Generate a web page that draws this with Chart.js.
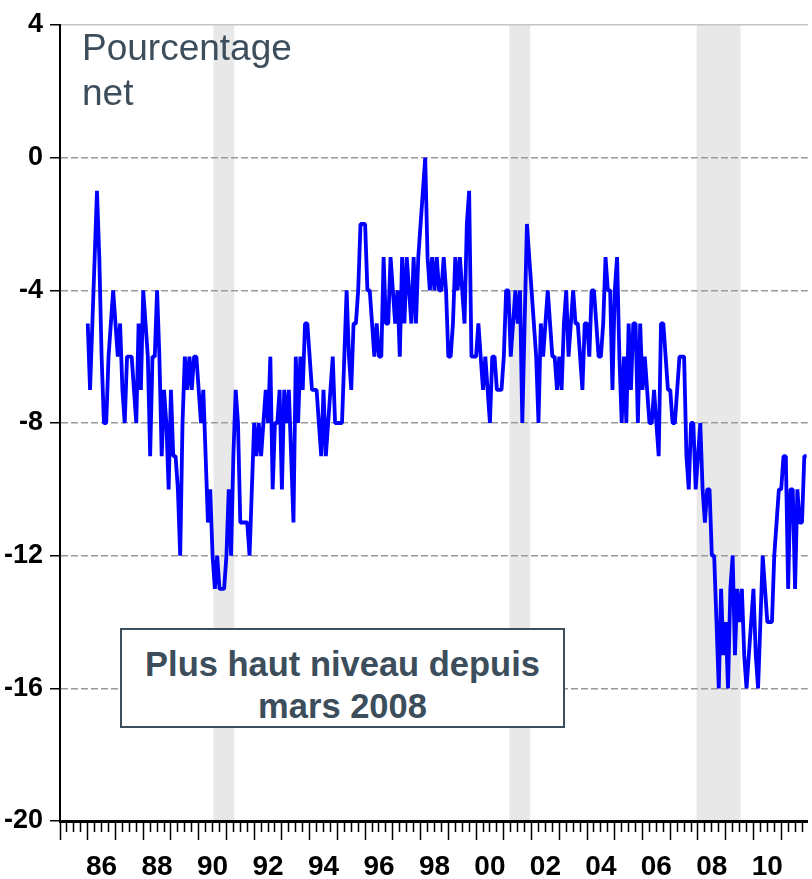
<!DOCTYPE html>
<html><head><meta charset="utf-8">
<script src="https://cdn.jsdelivr.net/npm/chart.js@4.4.1/dist/chart.umd.min.js"></script>
<style>
html,body{margin:0;padding:0;background:#fff;overflow:hidden}
#wrap{position:relative;width:812px;height:879px}
canvas{display:block}
.lbl{position:absolute;font-family:'Liberation Sans',Arial,sans-serif;color:#3c4d5c;white-space:nowrap}
#unit{left:82px;top:25px;font-size:37px;line-height:45px}
#note{left:120px;top:628px;width:445px;height:100px;box-sizing:border-box;border:2px solid #3c4d5c;background:#fff;font-weight:bold;font-size:34.5px;line-height:42px;text-align:center;padding-top:13px}
</style></head><body>
<div id="wrap">
<canvas id="c" width="812" height="879"></canvas>
<div class="lbl" id="unit">Pourcentage<br>net</div>
<div class="lbl" id="note">Plus haut niveau depuis<br>mars 2008</div>
</div>
<script>
// Monthly series, starting January 1986 (net percentage)
const startYear = 1986;
const v1986 = [-5,-7,-5,-3,-1,-3,-6,-8,-8,-6,-5,-4];
const v1987 = [-5,-6,-5,-7,-8,-6,-6,-6,-7,-8,-5,-7];
const v1988 = [-4,-5,-6,-9,-6,-6,-4,-6,-9,-7,-8,-10];
const v1989 = [-7,-9,-9,-10,-12,-8,-6,-7,-6,-7,-6,-6];
const v1990 = [-7,-8,-7,-9,-11,-10,-12,-13,-12,-13,-13,-13];
const v1991 = [-12,-10,-12,-9,-7,-8,-11,-11,-11,-11,-12,-10];
const v1992 = [-8,-9,-8,-9,-8,-7,-8,-6,-10,-8,-8,-7];
const v1993 = [-10,-7,-8,-7,-9,-11,-6,-8,-6,-7,-5,-5];
const v1994 = [-6,-7,-7,-7,-8,-9,-7,-9,-8,-7,-6,-8];
const v1995 = [-8,-8,-8,-6,-4,-6,-7,-5,-5,-4,-2,-2];
const v1996 = [-2,-4,-4,-5,-6,-5,-6,-6,-3,-5,-5,-3];
const v1997 = [-4,-5,-4,-6,-3,-5,-3,-4,-5,-3,-5,-3];
const v1998 = [-2,-1,0,-3,-4,-3,-4,-3,-4,-4,-3,-4];
const v1999 = [-6,-6,-5,-3,-4,-3,-4,-5,-2,-1,-6,-6];
const v2000 = [-6,-5,-6,-7,-6,-7,-8,-6,-6,-7,-7,-7];
const v2001 = [-6,-4,-4,-6,-5,-4,-5,-4,-8,-5,-2,-3];
const v2002 = [-4,-5,-6,-8,-5,-6,-5,-4,-5,-6,-6,-7];
const v2003 = [-6,-7,-5,-4,-6,-5,-4,-5,-5,-6,-7,-5];
const v2004 = [-5,-6,-4,-4,-5,-6,-6,-5,-3,-4,-4,-7];
const v2005 = [-4,-3,-6,-8,-6,-8,-5,-7,-5,-5,-8,-5];
const v2006 = [-7,-6,-7,-8,-8,-7,-8,-9,-5,-5,-6,-7];
const v2007 = [-7,-8,-8,-7,-6,-6,-6,-9,-10,-8,-8,-10];
const v2008 = [-9,-8,-10,-11,-10,-10,-12,-12,-14,-16,-13,-15];
const v2009 = [-14,-16,-13,-12,-15,-13,-14,-13,-15,-16,-15,-14];
const v2010 = [-13,-15,-16,-14,-12,-13,-14,-14,-14,-12,-11,-10];
const v2011 = [-10,-9,-9,-13,-10,-10,-13,-10,-11,-11,-9,-9];
const values = [].concat(v1986,v1987,v1988,v1989,v1990,v1991,v1992,v1993,v1994,v1995,v1996,v1997,v1998,v1999,v2000,v2001,v2002,v2003,v2004,v2005,v2006,v2007,v2008,v2009,v2010,v2011);

// Recessions (first month, last month)
const recessions = [['1990-07','1991-03'],['2001-03','2001-11'],['2007-12','2009-06']];
// Axis tick labels
const tickYears = [1986,1988,1990,1992,1994,1996,1998,2000,2002,2004,2006,2008,2010];
const yTicks = [4,0,-4,-8,-12,-16,-20];

const axisStart = 1985; // month index 0 = Jan 1985
const toM = s => { const [y,m] = s.split('-').map(Number); return (y-axisStart)*12 + (m-1); };
const points = values.map((v,i)=>({x:(startYear-axisStart)*12 + i, y:v}));

const TICKFONT = "'Liberation Sans',Arial,sans-serif";

const shade = {
  id:'shade',
  beforeDraw(chart){
    const {ctx, chartArea:a, scales:{x}} = chart;
    ctx.save();
    ctx.fillStyle='#fff'; ctx.fillRect(0,0,chart.width,chart.height);
    ctx.fillStyle='#e8e8e8';
    recessions.forEach(([s,e])=>{
      const x1 = x.getPixelForValue(toM(s)+0.4), x2 = x.getPixelForValue(toM(e)+1.4);
      ctx.fillRect(x1, a.top, x2-x1, a.bottom-a.top);
    });
    ctx.restore();
  }
};

new Chart(document.getElementById('c'), {
  type:'line',
  data:{ datasets:[{ data:points, borderColor:'#0000ff', borderWidth:3.8, pointRadius:0, tension:0, fill:false, borderJoinStyle:'bevel' }]},
  options:{
    responsive:false, animation:false, devicePixelRatio:1,
    layout:{ padding:{top:25,right:0,left:0,bottom:0} },
    plugins:{ legend:{display:false}, tooltip:{enabled:false}, title:{display:false} },
    scales:{
      x:{
        type:'linear', min:0, max:323.5,
        afterBuildTicks: s => { const t=[]; for(let m=0;m<=323;m+=3) t.push({value:m}); s.ticks=t; },
        afterFit: s => { s.height = 58; },
        ticks:{ autoSkip:false, maxRotation:0, minRotation:0, padding:10, color:'#000',
          font:{family:TICKFONT, size:28, weight:'bold'},
          callback: v => { if (v%12!==6) return ''; const y = axisStart + (v-6)/12; return tickYears.includes(y) ? String(y%100).padStart(2,'0') : ''; } },
        grid:{ drawOnChartArea:false, drawTicks:true, tickLength:19, tickColor:'#000', tickWidth:1.5,
          tickBorderDash: c => (c.tick && c.tick.value%12===0) ? [] : [9,40] },
        border:{ display:true, color:'#000', width:3 }
      },
      y:{
        min:-20, max:4,
        afterBuildTicks: s => { s.ticks = yTicks.map(v=>({value:v})); },
        afterFit: s => { s.width = 60; },
        ticks:{ padding:7, color:'#000', font:{family:TICKFONT, size:27, weight:'bold'}, callback: v => String(v) },
        grid:{ color: c => (c.tick && c.tick.value===4) ? '#c4c4c4' : ((c.tick && c.tick.value===-20) ? 'rgba(0,0,0,0)' : '#9a9a9a'),
          lineWidth:1.5, tickLength:10, tickColor:'#000', tickWidth:1.5 },
        border:{ color:'#000', width:2, dash: c => (c.type==='tick' && c.tick && c.tick.value!==4) ? [7,3] : [] }
      }
    }
  },
  plugins:[shade]
});
</script>
</body></html>
